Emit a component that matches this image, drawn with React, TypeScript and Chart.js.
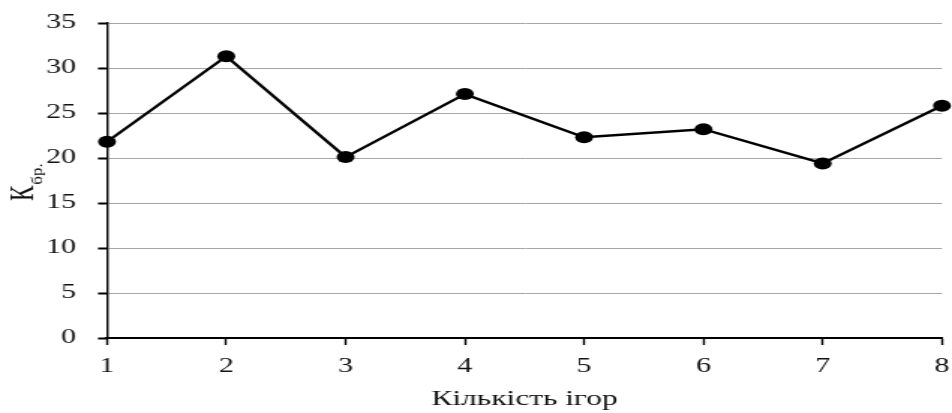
import React, { useEffect, useRef } from "react";
import { Chart, registerables } from "chart.js";

Chart.register(...registerables);

const categories = ["1", "2", "3", "4", "5", "6", "7", "8"];
const values = [21.8, 31.3, 20.1, 27.1, 22.3, 23.2, 19.4, 25.8];
const yTitleMain = "К";
const yTitleSub = "бр.";
const xTitle = "Кількість ігор";

const CANVAS_W = 635;
const CANVAS_H = 413;
const FONT = "'Liberation Serif', 'Times New Roman', serif";

const yTitlePlugin = {
  id: "yTitlePlugin",
  afterDraw(chart: any) {
    const ctx = chart.ctx;
    ctx.save();
    ctx.fillStyle = "#111";
    ctx.translate(22, 201);
    ctx.rotate(-Math.PI / 2);
    ctx.textAlign = "left";
    ctx.textBaseline = "alphabetic";
    ctx.font = `23px ${FONT}`;
    ctx.fillText(yTitleMain, 0, 0);
    const w = ctx.measureText(yTitleMain).width;
    ctx.translate(w + 1, 6);
    ctx.scale(1, 0.65);
    ctx.font = `17px ${FONT}`;
    ctx.fillText(yTitleSub, 0, 0);
    ctx.restore();
  },
};

export default function App() {
  const ref = useRef<HTMLCanvasElement>(null);
  useEffect(() => {
    if (!ref.current) return;
    const chart = new Chart(ref.current, {
      type: "line",
      data: {
        labels: categories,
        datasets: [
          {
            data: values,
            borderColor: "#000",
            backgroundColor: "#000",
            borderWidth: 2.4,
            pointRadius: 6,
            pointBackgroundColor: "#000",
            pointBorderColor: "#000",
            pointBorderWidth: 0,
            tension: 0,
            clip: false as any,
          },
        ],
      },
      options: {
        animation: false,
        responsive: false,
        devicePixelRatio: 1,
        layout: { padding: { top: 23, right: 6.7, bottom: 0, left: 0 } },
        plugins: {
          legend: { display: false },
          tooltip: { enabled: false },
        },
        scales: {
          x: {
            offset: false,
            grid: {
              drawOnChartArea: false,
              drawTicks: true,
              tickLength: 7,
              tickColor: "#000",
              tickWidth: 1.4,
            },
            border: { color: "#000", width: 2 },
            ticks: {
              color: "#111",
              padding: 10,
              font: { family: FONT, size: 20 },
              maxRotation: 0,
              autoSkip: false,
            },
            title: {
              display: true,
              text: xTitle,
              color: "#111",
              font: { family: FONT, size: 21 },
              padding: { top: 0, bottom: 1 },
            },
            afterFit: (s: any) => {
              s.height = 75;
              s.paddingLeft = 0;
              s.paddingRight = 0;
            },
          },
          y: {
            min: 0,
            max: 35,
            grid: {
              color: "#a6a6a6",
              lineWidth: 1,
              drawTicks: true,
              tickLength: 6,
              tickColor: "#000",
              tickWidth: 2,
            },
            border: { color: "#000", width: 1.4 },
            ticks: {
              stepSize: 5,
              color: "#111",
              padding: 14.5,
              font: { family: FONT, size: 20 },
            },
            title: { display: false },
            afterFit: (s: any) => {
              s.width = 71.37;
              s.paddingTop = 0;
              s.paddingBottom = 0;
            },
          },
        },
      },
      plugins: [yTitlePlugin],
    });
    return () => chart.destroy();
  }, []);
  return (
    <div style={{ position: "absolute", left: 0, top: 0, width: 952, height: 413 }}>
      <canvas
        ref={ref}
        width={CANVAS_W}
        height={CANVAS_H}
        style={{ width: "952px", height: "413px", display: "block" }}
      />
    </div>
  );
}
